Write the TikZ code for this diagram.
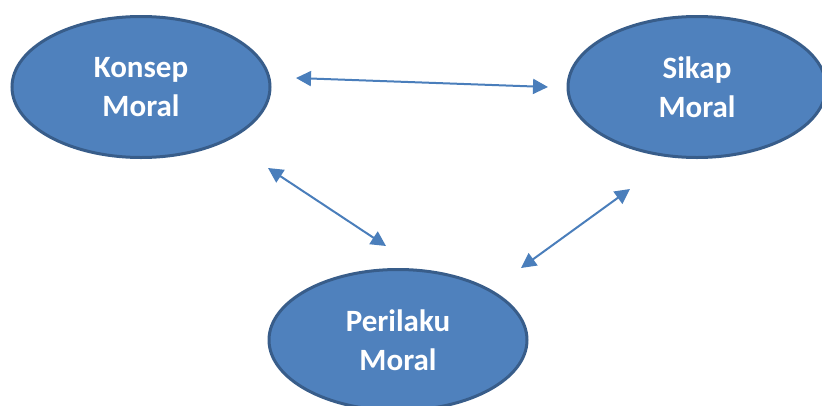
\documentclass[tikz,border=0pt]{standalone}
\usepackage{fontspec}
\setmainfont{Carlito}
\usetikzlibrary{shapes.geometric,arrows.meta}
\definecolor{moralfill}{HTML}{4F81BD}
\definecolor{moraledge}{HTML}{385D8A}
\definecolor{moralarrow}{HTML}{4A7EBB}
\tikzset{
  moral/.style={ellipse, fill=moralfill, draw=moraledge, line width=3pt,
    minimum width=258pt, minimum height=141pt, inner sep=0pt, text=white,
    align=center, font=\fontsize{31}{39}\selectfont\bfseries},
  link/.style={draw=moralarrow, line width=2pt,
    {Triangle[length=15pt,width=15pt]}-{Triangle[length=15pt,width=15pt]}}
}
\begin{document}
\begin{tikzpicture}[x=1pt,y=-1pt]
		% frame
		\useasboundingbox (0,0) rectangle (822,405);
		% ellipses
		\node[moral] (konsep) at (141,87) {Konsep\\Moral};
		\node[moral] (sikap) at (697,87) {Sikap\\Moral};
		\node[moral] (perilaku) at (398,340) {Perilaku\\Moral};
		% arrow ends
		\coordinate (K1) at (296,78);
		\coordinate (S1) at (548,87);
		\coordinate (K2) at (268,168);
		\coordinate (P1) at (386,246);
		\coordinate (S2) at (630,189);
		\coordinate (P2) at (521,268);
		% arrows
		\draw[link] (K1) -- (S1);
		\draw[link] (K2) -- (P1);
		\draw[link] (S2) -- (P2);
	\end{tikzpicture}
\end{document}
